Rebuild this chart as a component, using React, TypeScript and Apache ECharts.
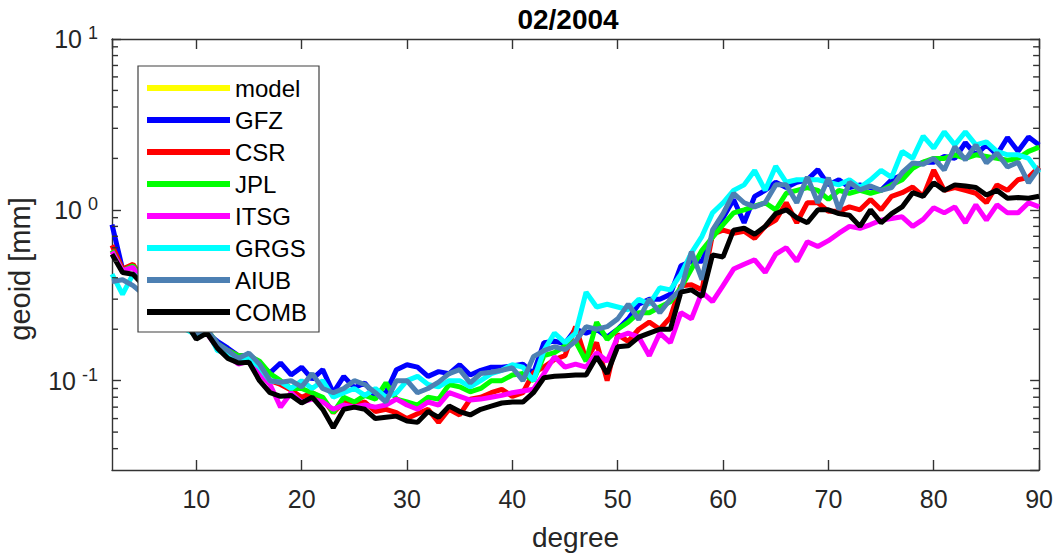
import React, { useEffect, useRef } from "react";
import * as echarts from "echarts";

// spherical-harmonic degree (x axis)
const DEGREES = [
  2, 3, 4, 5, 6, 7, 8, 9,
  10, 11, 12, 13, 14, 15, 16, 17, 18, 19,
  20, 21, 22, 23, 24, 25, 26, 27, 28, 29,
  30, 31, 32, 33, 34, 35, 36, 37, 38, 39,
  40, 41, 42, 43, 44, 45, 46, 47, 48, 49,
  50, 51, 52, 53, 54, 55, 56, 57, 58, 59,
  60, 61, 62, 63, 64, 65, 66, 67, 68, 69,
  70, 71, 72, 73, 74, 75, 76, 77, 78, 79,
  80, 81, 82, 83, 84, 85, 86, 87, 88, 89,
  90,
];

// geoid degree amplitudes [mm]
const MODEL: number[] = []; // not visible in this month
const GFZ = [
  0.82, 0.45, 0.47, 0.4, 0.35, 0.3, 0.27, 0.24,
  0.2, 0.19, 0.17, 0.155, 0.14, 0.14, 0.125, 0.111, 0.127, 0.108,
  0.12, 0.102, 0.116, 0.085, 0.106, 0.091, 0.097, 0.081, 0.085, 0.116,
  0.124, 0.12, 0.106, 0.113, 0.11, 0.124, 0.108, 0.115, 0.12, 0.12,
  0.122, 0.125, 0.11, 0.167, 0.17, 0.165, 0.2, 0.19, 0.2, 0.18,
  0.2, 0.23, 0.28, 0.3, 0.3, 0.32, 0.47, 0.5, 0.5, 0.7,
  0.9, 1.15, 0.84, 1.2, 1.3, 1.45, 1.35, 1.45, 1.5, 1.72,
  1.4, 1.5, 1.35, 1.4, 1.35, 1.3, 1.5, 1.6, 1.8, 1.9,
  1.9, 2.05, 2.0, 2.47, 2.1, 2.4, 2.1, 2.65, 2.2, 2.67,
  2.4,
];
const CSR = [
  0.62, 0.45, 0.48, 0.38, 0.33, 0.28, 0.25, 0.22,
  0.19, 0.2, 0.16, 0.15, 0.14, 0.135, 0.12, 0.1, 0.095, 0.088,
  0.08, 0.085, 0.078, 0.065, 0.075, 0.072, 0.075, 0.066, 0.068, 0.065,
  0.06, 0.064, 0.068, 0.057, 0.068, 0.063, 0.078, 0.08, 0.085, 0.089,
  0.081, 0.085, 0.111, 0.12, 0.133, 0.14, 0.207, 0.133, 0.167, 0.1,
  0.186, 0.17, 0.2, 0.22, 0.2, 0.235, 0.36, 0.364, 0.34, 0.72,
  0.76, 0.73, 0.75, 0.68, 0.8, 0.87, 1.1, 0.84, 1.1, 1.1,
  0.98, 0.98, 1.04, 1.0, 1.15, 1.0, 1.2, 1.26, 1.36, 1.2,
  1.71, 1.3, 1.35, 1.3, 1.25, 1.1, 1.4, 1.3, 1.5, 1.55,
  1.78,
];
const JPL = [
  0.58, 0.44, 0.47, 0.38, 0.33, 0.28, 0.25, 0.22,
  0.19, 0.2, 0.165, 0.15, 0.14, 0.14, 0.13, 0.11, 0.1, 0.09,
  0.09, 0.085, 0.08, 0.065, 0.08, 0.075, 0.082, 0.078, 0.097, 0.078,
  0.075, 0.072, 0.08, 0.078, 0.095, 0.092, 0.086, 0.09, 0.1, 0.1,
  0.108, 0.11, 0.1, 0.14, 0.146, 0.16, 0.17, 0.13, 0.22, 0.174,
  0.2, 0.22, 0.25, 0.25, 0.27, 0.29, 0.35, 0.45, 0.58, 0.69,
  0.82, 0.96, 1.0, 1.05, 1.1, 1.0, 1.25, 1.3, 1.35, 1.3,
  1.15, 1.3, 1.25, 1.3, 1.25, 1.3, 1.4, 1.5, 1.75, 1.9,
  2.0, 2.0, 2.1, 2.0, 2.1, 2.05, 2.0, 1.95, 2.0, 2.2,
  2.33,
];
const ITSG = [
  0.57, 0.44, 0.46, 0.37, 0.32, 0.28, 0.25, 0.22,
  0.18, 0.19, 0.155, 0.14, 0.125, 0.13, 0.11, 0.095, 0.07, 0.085,
  0.075, 0.078, 0.075, 0.068, 0.072, 0.07, 0.072, 0.07, 0.072, 0.078,
  0.072, 0.068, 0.075, 0.072, 0.085, 0.081, 0.077, 0.078, 0.08, 0.082,
  0.085, 0.087, 0.089, 0.11, 0.138, 0.12, 0.125, 0.12, 0.146, 0.13,
  0.18, 0.19, 0.18, 0.14, 0.19, 0.167, 0.25, 0.23, 0.33, 0.29,
  0.36, 0.45, 0.48, 0.51, 0.43, 0.55, 0.6, 0.5, 0.65, 0.61,
  0.66, 0.73, 0.8, 0.78, 0.82, 0.87, 0.89, 0.91, 0.8, 0.88,
  1.03, 0.96, 1.04, 0.84, 1.07, 0.87, 1.07, 0.96, 0.96, 1.1,
  1.04,
];
const GRGS = [
  0.42, 0.32, 0.42, 0.38, 0.32, 0.28, 0.24, 0.2,
  0.185, 0.2, 0.15, 0.145, 0.13, 0.135, 0.12, 0.1, 0.098, 0.09,
  0.1, 0.09, 0.1, 0.08, 0.085, 0.09, 0.082, 0.09, 0.08, 0.085,
  0.1, 0.106, 0.095, 0.092, 0.1, 0.1, 0.092, 0.1, 0.11, 0.115,
  0.124, 0.12, 0.1, 0.15, 0.19, 0.167, 0.19, 0.33, 0.27, 0.28,
  0.27, 0.26, 0.3, 0.28, 0.35, 0.34, 0.42, 0.56, 0.7, 0.96,
  1.1, 1.3, 1.4, 1.7, 1.3, 1.8, 1.45, 1.5, 1.5, 1.5,
  1.45, 1.4, 1.5, 1.35, 1.5, 1.7, 1.55, 2.2, 2.0, 2.7,
  2.3, 2.86, 2.4, 2.86, 2.4, 2.5, 2.2, 2.1, 2.1, 2.0,
  1.65,
];
const AIUB = [
  0.38, 0.39, 0.36, 0.32, 0.3, 0.27, 0.23, 0.21,
  0.19, 0.2, 0.165, 0.15, 0.135, 0.145, 0.125, 0.1, 0.098, 0.1,
  0.092, 0.11, 0.09, 0.085, 0.09, 0.1, 0.095, 0.085, 0.075, 0.1,
  0.1, 0.085, 0.09, 0.098, 0.11, 0.116, 0.097, 0.11, 0.112, 0.115,
  0.119, 0.1, 0.138, 0.15, 0.158, 0.152, 0.17, 0.207, 0.2, 0.207,
  0.23, 0.28, 0.228, 0.3, 0.25, 0.3, 0.34, 0.57, 0.39, 0.76,
  0.95, 1.25, 1.1, 1.04, 1.1, 1.4, 1.4, 1.1, 1.56, 1.1,
  1.54, 1.0, 1.45, 1.31, 1.38, 1.3, 1.35, 1.65, 1.88, 1.85,
  2.0, 1.71, 2.34, 1.96, 2.4, 1.88, 2.15, 1.78, 1.9, 1.44,
  1.76,
];
const COMB = [
  0.55, 0.43, 0.42, 0.36, 0.33, 0.29, 0.25, 0.22,
  0.175, 0.19, 0.155, 0.135, 0.127, 0.128, 0.1, 0.085, 0.081, 0.082,
  0.074, 0.08, 0.068, 0.053, 0.068, 0.07, 0.068, 0.06, 0.061, 0.062,
  0.058, 0.057, 0.066, 0.061, 0.071, 0.066, 0.063, 0.068, 0.071, 0.074,
  0.075, 0.075, 0.085, 0.104, 0.106, 0.107, 0.108, 0.108, 0.138, 0.11,
  0.158, 0.16, 0.18, 0.19, 0.2, 0.2, 0.33, 0.34, 0.31, 0.545,
  0.53, 0.76, 0.78, 0.72, 0.8, 0.95, 1.0, 0.9, 0.84, 1.0,
  1.0, 0.95, 0.93, 0.8, 1.0, 0.84, 0.95, 1.04, 1.26, 1.2,
  1.44, 1.3, 1.4, 1.38, 1.35, 1.22, 1.3, 1.17, 1.18, 1.17,
  1.2,
];

const SERIES_NAMES = ["model", "GFZ", "CSR", "JPL", "ITSG", "GRGS", "AIUB", "COMB"];
const SERIES_VALUES = [MODEL, GFZ, CSR, JPL, ITSG, GRGS, AIUB, COMB];
const SERIES_COLORS = ["#ffff00", "#0000ff", "#ff0000", "#00ff00", "#ff00ff", "#00ffff", "#4d80b3", "#000000"];

// log-axis minor tick positions
const MINOR_TICKS = [
  0.04, 0.05, 0.06, 0.07, 0.08, 0.09,
  0.2, 0.3, 0.4, 0.5, 0.6, 0.7, 0.8, 0.9,
  2, 3, 4, 5, 6, 7, 8, 9,
];

const TITLE = "02/2004";
const X_NAME = "degree";
const Y_NAME = "geoid [mm]";
const X_MIN = 2;
const X_MAX = 90;
const Y_MIN = 0.03;
const Y_MAX = 10;

const FONT = "'Liberation Sans', Helvetica, Arial, sans-serif";
const AXIS_COLOR = "#333333";
const AXIS_WIDTH = 1.4;

export default function App() {
  const ref = useRef<HTMLDivElement>(null);

  useEffect(() => {
    if (!ref.current) return;
    const chart = echarts.init(ref.current, undefined, { renderer: "svg" });

    const tickLabelRich = {
      b: { fontSize: 25, lineHeight: 30, color: "#262626", fontFamily: FONT },
      s: { fontSize: 18, lineHeight: 10, verticalAlign: "top", padding: [0, 0, 0, 6], color: "#262626", fontFamily: FONT },
    };

    const lineSeries = SERIES_NAMES.map((name, k) => ({
      name,
      type: "line",
      xAxisIndex: 0,
      yAxisIndex: 0,
      data: SERIES_VALUES[k].map((v, i) => [DEGREES[i], v]),
      showSymbol: false,
      symbol: "none",
      lineStyle: { width: 5, color: SERIES_COLORS[k] },
      itemStyle: { color: SERIES_COLORS[k] },
      z: 3,
    }));

    const axisLine = { show: true, lineStyle: { color: AXIS_COLOR, width: AXIS_WIDTH } };
    const axisTickX = { show: true, inside: true, length: 10, lineStyle: { color: AXIS_COLOR, width: AXIS_WIDTH } };
    const axisTickY = { show: true, inside: true, length: 9, lineStyle: { color: AXIS_COLOR, width: AXIS_WIDTH } };

    const option: any = {
      animation: false,
      backgroundColor: "#ffffff",
      color: SERIES_COLORS,
      title: {
        text: TITLE,
        left: 563,
        top: 0,
        textAlign: "center",
        textStyle: { fontSize: 28, fontWeight: "bold", color: "#000", fontFamily: FONT },
      },
      grid: { left: 112, right: 15, top: 39, bottom: 86, containLabel: false },
      legend: {
        data: SERIES_NAMES,
        orient: "vertical",
        left: 138,
        top: 66,
        padding: [6, 12, 4, 9],
        itemGap: 0,
        itemWidth: 83,
        itemHeight: 6,
        icon: "rect",
        selectedMode: false,
        backgroundColor: "#ffffff",
        borderColor: "#404040",
        borderWidth: 1.2,
        textStyle: { fontSize: 24, lineHeight: 32, color: "#000", fontFamily: FONT },
        z: 10,
      },
      xAxis: [
        {
          type: "value",
          min: X_MIN,
          max: X_MAX,
          splitNumber: 9,
          position: "bottom",
          name: X_NAME,
          nameLocation: "middle",
          nameGap: 53,
          nameTextStyle: { fontSize: 28, color: "#262626", fontFamily: FONT },
          axisLine,
          axisTick: axisTickX,
          axisLabel: { showMinLabel: false, fontSize: 25, margin: 16, color: "#262626", fontFamily: FONT },
          splitLine: { show: false },
        },
        {
          type: "value",
          min: X_MIN,
          max: X_MAX,
          splitNumber: 9,
          position: "top",
          axisLine,
          axisTick: axisTickX,
          axisLabel: { show: false },
          splitLine: { show: false },
        },
      ],
      yAxis: [
        {
          type: "log",
          logBase: 10,
          min: Y_MIN,
          max: Y_MAX,
          position: "left",
          axisLine,
          axisTick: axisTickY,
          axisLabel: {
            showMinLabel: false,
            margin: 14,
            formatter: (v: number) => `{b|10}{s|${Math.round(Math.log10(v))}}`,
            rich: tickLabelRich,
          },
          splitLine: { show: false },
        },
        {
          type: "log",
          logBase: 10,
          min: Y_MIN,
          max: Y_MAX,
          position: "right",
          axisLine,
          axisTick: axisTickY,
          axisLabel: { show: false },
          splitLine: { show: false },
        },
      ],
      graphic: [
        {
          id: "ylabel",
          type: "text",
          x: 20,
          y: 269,
          rotation: Math.PI / 2,
          style: {
            text: Y_NAME,
            fontSize: 29,
            fontFamily: FONT,
            fill: "#262626",
            align: "center",
            verticalAlign: "middle",
          },
        },
      ],
      series: lineSeries,
    };

    chart.setOption(option);

    // minor ticks of the log axes, positioned through the chart's own scales
    const minorTicks: any[] = [];
    MINOR_TICKS.forEach((v, i) => {
      const l = chart.convertToPixel({ xAxisIndex: 0, yAxisIndex: 0 }, [X_MIN, v]) as number[];
      const r = chart.convertToPixel({ xAxisIndex: 0, yAxisIndex: 0 }, [X_MAX, v]) as number[];
      if (!l || !r) return;
      minorTicks.push(
        {
          id: "mtl" + i,
          type: "line",
          silent: true,
          z: 5,
          shape: { x1: l[0], y1: l[1], x2: l[0] + 6, y2: l[1] },
          style: { stroke: AXIS_COLOR, lineWidth: AXIS_WIDTH },
        },
        {
          id: "mtr" + i,
          type: "line",
          silent: true,
          z: 5,
          shape: { x1: r[0], y1: r[1], x2: r[0] - 6, y2: r[1] },
          style: { stroke: AXIS_COLOR, lineWidth: AXIS_WIDTH },
        }
      );
    });
    chart.setOption({ graphic: minorTicks });

    return () => chart.dispose();
  }, []);

  return (
    <div
      ref={ref}
      style={{ position: "absolute", left: 0, top: 0, width: 1056, height: 556, background: "#ffffff" }}
    />
  );
}
